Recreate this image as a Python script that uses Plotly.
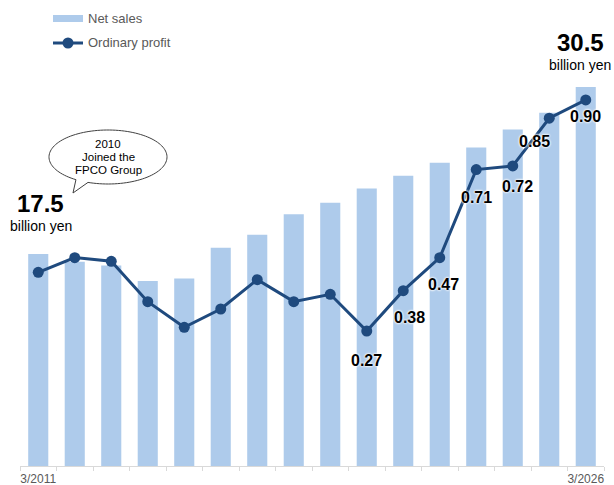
import numpy as np
import plotly.graph_objects as go

# ---- data ----
years = list(range(2011, 2027))
tick_labels = ["3/2011", "3/2026"]
net_sales = [17.5, 16.9, 16.6, 15.4, 15.6, 18.0, 19.0, 20.6, 21.5, 22.6, 23.6, 24.6, 25.8, 27.2, 28.5, 30.5]
ordinary_profit = [0.43, 0.47, 0.46, 0.35, 0.28, 0.33, 0.41, 0.35, 0.37, 0.27, 0.38, 0.47, 0.71, 0.72, 0.85, 0.90]
labelled_years = [2020, 2021, 2022, 2023, 2024, 2025, 2026]
label_shift = {2020: (0, -29), 2021: (6, -27), 2022: (4, -27), 2023: (0, -28),
               2024: (5, -21), 2025: (-15, -23), 2026: (0, -17)}

BAR = "#AECBEB"
LINE = "#1F4A7E"
GRAY = "#595959"
FONT = "Liberation Sans, Arial, sans-serif"

W, H = 614, 485
ML, MR, MT, MB = 20, 10, 10, 19
PW, PH = W - ML - MR, H - MT - MB


def px(x):
    return (x - ML) / PW


def py(y):
    return (H - MB - y) / PH


fig = go.Figure()
fig.add_trace(go.Bar(x=years, y=net_sales, name="Net sales", marker=dict(color=BAR, line=dict(width=0)),
                     width=0.55, showlegend=False, hoverinfo="skip"))
fig.add_trace(go.Scatter(x=years, y=ordinary_profit, name="Ordinary profit", yaxis="y2",
                         mode="lines+markers", line=dict(color=LINE, width=3),
                         marker=dict(color=LINE, size=11), showlegend=False))

annotations = []
for yr in labelled_years:
    v = ordinary_profit[years.index(yr)]
    dx, dy = label_shift[yr]
    annotations.append(dict(x=yr, y=v, xref="x", yref="y2", text=f"{v:.2f}", showarrow=False,
                            xshift=dx, yshift=dy, xanchor="center", yanchor="middle",
                            font=dict(family=FONT, size=16, color="black", weight="bold",
                                      shadow="0px 0px 2px white, 0px 0px 2px white, 0px 0px 3px white")))


def pa(x, y, text, size, weight="normal", color="black", xanchor="center"):
    return dict(x=px(x), y=py(y), xref="paper", yref="paper", text=text, showarrow=False,
                xanchor=xanchor, yanchor="middle",
                font=dict(family=FONT, size=size, color=color, weight=weight))


# headline values
annotations += [
    pa(40, 203, f"{net_sales[0]}", 24, "bold"),
    pa(41, 226, "billion yen", 14),
    pa(580, 42, f"{net_sales[-1]}", 24, "bold"),
    pa(580, 65, "billion yen", 14),
]
# bubble text
for txt, yy in [("2010", 144), ("Joined the", 157), ("FPCO Group", 170)]:
    annotations.append(pa(108, yy, txt, 11.5))
# legend text
annotations += [
    pa(86, 18, "Net sales", 13, color=GRAY, xanchor="left"),
    pa(86, 43, "Ordinary profit", 13, color=GRAY, xanchor="left"),
]

# speech bubble path
cx, cy, rx, ry = 108, 157, 59, 27
th = np.radians(np.linspace(122.9, 469.8, 120))
pts = [(cx + rx * np.cos(t), cy + ry * np.sin(t)) for t in th]
pts.append((73, 193))
path = "M " + " L ".join(f"{px(a):.5f},{py(b):.5f}" for a, b in pts) + " Z"

shapes = [
    dict(type="path", path=path, xref="paper", yref="paper", line=dict(color="#404040", width=1),
         fillcolor="white", layer="above"),
    dict(type="rect", xref="paper", yref="paper", x0=px(53), x1=px(83), y0=py(15), y1=py(22),
         fillcolor=BAR, line=dict(width=0)),
    dict(type="line", xref="paper", yref="paper", x0=px(53), x1=px(83), y0=py(43), y1=py(43),
         line=dict(color=LINE, width=3)),
    dict(type="circle", xref="paper", yref="paper", x0=px(62.5), x1=px(73.5), y0=py(37.5), y1=py(48.5),
         fillcolor=LINE, line=dict(width=0)),
]

fig.update_layout(
    width=W, height=H,
    margin=dict(l=ML, r=MR, t=MT, b=MB, autoexpand=False),
    plot_bgcolor="white", paper_bgcolor="white",
    font=dict(family=FONT, color=GRAY),
    xaxis=dict(range=[years[0] - 0.5, years[-1] + 0.5], tickvals=[years[0], years[-1]], ticktext=tick_labels,
               ticks="", showgrid=False, zeroline=False, showline=True, linecolor="#D9D9D9", linewidth=1,
               automargin=False,
               tickfont=dict(family=FONT, size=12, color=GRAY), ticklabelstandoff=2,
               minor=dict(tickvals=[y - 0.5 for y in years] + [years[-1] + 0.5], ticks="outside",
                          ticklen=4, tickcolor="#D9D9D9", showgrid=False)),
    yaxis=dict(range=[1.0, 36.5], visible=False, showgrid=False, automargin=False),
    yaxis2=dict(range=[-0.098, 1.145], visible=False, overlaying="y", showgrid=False, automargin=False),
    annotations=annotations,
    shapes=shapes,
    showlegend=False,
)

fig.write_html("out.html", config={"displayModeBar": False},
               post_script="document.body.style.margin='0';document.body.style.padding='0';")
